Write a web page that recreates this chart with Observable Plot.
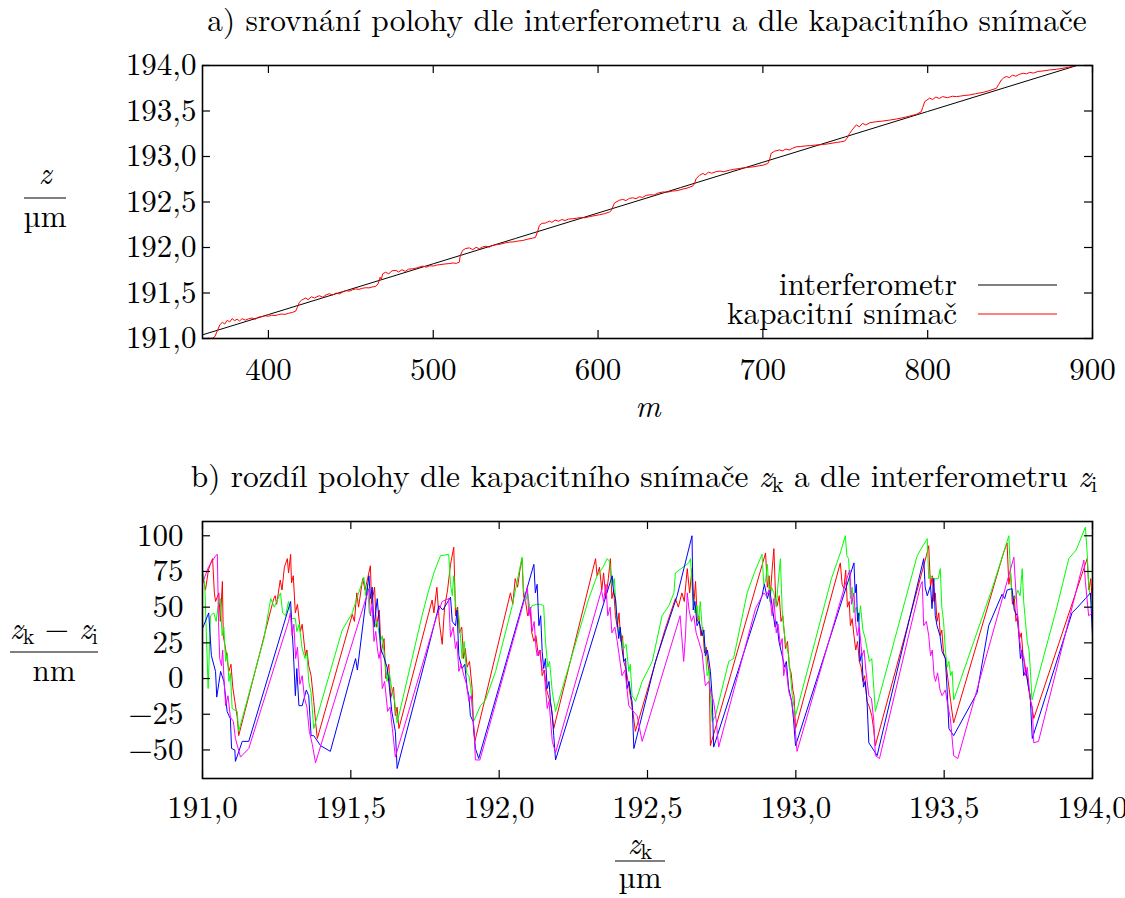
<!DOCTYPE html>
<html><head><meta charset="utf-8">
<script src="https://cdn.jsdelivr.net/npm/d3@7"></script>
<script src="https://cdn.jsdelivr.net/npm/@observablehq/plot@0.6"></script>
<style>
html,body{margin:0;padding:0;background:#fff;overflow:hidden;}
#root{width:1125px;height:898px;}
#root svg{display:block;}
</style></head><body><div id="root"></div>
<script>
// pick an installed serif face (Computer Modern look-alike)
function pickFont(cands) {
  const c = document.createElement("canvas").getContext("2d");
  const s = "abcdefghijklmnopqrstuvwxyzABCDEFGHIJKLMNOPQRSTUVWXYZ0123456789,.";
  for (const f of cands) {
    for (const base of ["monospace", "sans-serif", "serif", "cursive"]) {
      c.font = `40px ${base}`; const w0 = c.measureText(s).width;
      c.font = `40px "${f}", ${base}`; const w1 = c.measureText(s).width;
      if (Math.abs(w0 - w1) > 0.5) return f;
    }
  }
  return null;
}
const picked = pickFont(["CMU Serif", "Latin Modern Roman", "Liberation Serif", "DejaVu Serif", "Tinos", "Times New Roman",
  "Noto Serif", "FreeSerif", "Nimbus Roman", "Nimbus Roman No9 L", "TeX Gyre Termes", "Georgia", "Bitstream Vera Serif",
  "Source Serif Pro", "PT Serif", "Gelasio", "Crimson Text", "Times"]);
const FONT = picked ? `"${picked}", serif` : "serif";

// ---------- panel a ----------
const topXTicks = [400, 500, 600, 700, 800, 900];
const topYTicks = [191.0, 191.5, 192.0, 192.5, 193.0, 193.5, 194.0];
const interfM = [360, 400, 450, 500, 550, 600, 650, 700, 750, 800, 850, 890];
const interfZ = [191.040, 191.263, 191.542, 191.821, 192.100, 192.379, 192.658, 192.937, 193.216, 193.495, 193.774, 193.997];
const kapTop = [
[360,191.000],[363,191.001],[366,191.003],[367.5,191.02],[369,191.085],[370.5,191.15],[372,191.177],[373.5,191.160],[375,191.200],[376.5,191.182],[378,191.218],[379.5,191.196],[381,191.212],[382.5,191.192],[384,191.218],[386,191.202],[388,191.216],[390,191.226],[392,191.212],[394,191.234],[396,191.240],[398,191.250],[400,191.244],[402,191.256],[404,191.252],[406,191.262],[408,191.269],[410,191.265],[412,191.276],[414.6,191.287],[416.5,191.30],
[417.5,191.34],[418.7,191.397],[420,191.42],[422.7,191.446],[424,191.426],[426,191.458],[428,191.446],[430.8,191.470],[433,191.454],[435,191.480],[436.9,191.492],[439,191.478],[441,191.500],[443,191.490],[445,191.510],[447,191.526],[449,191.520],[451,191.535],[453.1,191.545],[455,191.540],[457,191.552],[459.1,191.558],[461,191.556],[463,191.566],[465.2,191.574],[466.5,191.60],[467.8,191.673],[468.5,191.65],
[469.3,191.710],[471,191.728],[473,191.712],[475,191.744],[477.4,191.748],[479,191.730],[481,191.756],[483,191.738],[485,191.762],[487.5,191.766],[490,191.775],[493.5,191.796],[496,191.784],[498,191.800],[500,191.796],[502,191.806],[504,191.812],[507.7,191.820],[510,191.824],[512,191.830],[514,191.826],[515.8,191.838],
[516.4,191.910],[517.8,191.967],[519.5,191.988],[521.9,191.996],[524,191.976],[526,192.002],[528,191.986],[530,192.006],[532,192.014],[534,192.004],[536,192.022],[538.1,192.030],[541,192.038],[544,192.052],[546.2,192.059],[549,192.062],[551,192.070],[554.3,192.077],[557,192.090],[560.3,192.103],[562,192.110],
[563.4,192.180],[564.4,192.243],[566,192.266],[568,192.268],[570.5,192.290],[572,192.276],[574,192.302],[576,192.288],[578,192.308],[580,192.296],[582,192.312],[584.6,192.316],[587,192.322],[590,192.330],[592,192.326],[595,192.340],[598.8,192.353],[601,192.360],[604,192.372],[606.9,192.390],[608,192.405],
[608.9,192.445],[610,192.490],[613,192.520],[615,192.528],[617,192.516],[619,192.540],[621,192.546],[623,192.536],[625,192.558],[627,192.550],[629.2,192.573],[632,192.580],[634,192.576],[636,192.596],[639.3,192.610],[642,192.608],[645,192.620],[648,192.625],[651,192.640],[654,192.652],[657.5,192.676],[658.5,192.700],
[659.5,192.757],[661.5,192.792],[663.6,192.814],[665,192.798],[667,192.828],[669,192.816],[671.7,192.834],[674,192.840],[676,192.832],[679.7,192.849],[682,192.858],[685,192.866],[688,192.875],[691,192.880],[694,192.886],[697,192.896],[700,192.904],[703,192.923],[704,192.960],
[705,193.033],[707,193.058],[710.1,193.072],[712,193.062],[714,193.082],[716,193.072],[718,193.090],[720.2,193.106],[723,193.110],[726.3,193.117],[729,193.120],[732,193.126],[736.4,193.132],[740,193.140],[744.5,193.154],[747,193.160],[749.6,193.169],[751,193.200],
[752.6,193.253],[754.5,193.300],[756.7,193.348],[758.5,193.326],[760.5,193.364],[762.5,193.346],[765,193.372],[768.8,193.382],[772,193.388],[776.9,193.400],[781,193.412],[785,193.426],[789,193.444],[793.1,193.463],[796.1,193.492],[797,193.540],
[798.2,193.603],[801.2,193.642],[803,193.626],[805,193.654],[807,193.638],[809,193.658],[812,193.646],[815,193.662],[817.4,193.658],[820,193.664],[822,193.670],[825.5,193.676],[829,193.690],[833.6,193.705],[837,193.722],[841.7,193.750],[843,193.790],
[844.7,193.841],[846,193.862],[847.7,193.880],[849.5,193.866],[851.5,193.894],[853.5,193.882],[855.5,193.902],[857.9,193.915],[860,193.908],[862,193.926],[864,193.916],[867,193.935],[870,193.940],[874,193.951],[878,193.958],[882.1,193.970],[886,193.982],[889.2,193.996]
];

// ---------- panel b ----------
const botXTicks = [191.0, 191.5, 192.0, 192.5, 193.0, 193.5, 194.0];
const botYTicks = [-50, -25, 0, 25, 50, 75, 100];
const redDiff = [
[191.000,73],[191.010,62],[191.020,76],[191.028,81],[191.034,84],[191.040,60],[191.044,54],[191.055,60],[191.060,40],[191.067,68],[191.070,30],[191.076,23],[191.083,14],[191.089,5],[191.096,10],[191.102,-6],[191.109,-16],[191.117,-27],[191.122,-40],
[191.240,56],[191.245,58],[191.250,52],[191.262,69],[191.268,62],[191.276,78],[191.286,84],[191.290,74],[191.297,87],[191.300,67],[191.306,72],[191.313,46],[191.320,52],[191.330,33],[191.336,38],[191.347,16],[191.352,20],[191.358,9],[191.366,2],[191.375,-16],[191.381,-30],[191.387,-42],
[191.505,45],[191.512,40],[191.520,60],[191.526,50],[191.540,70],[191.548,62],[191.566,79],[191.570,52],[191.580,64],[191.586,36],[191.596,48],[191.602,18],[191.612,28],[191.618,0],[191.628,10],[191.634,-14],[191.644,-6],[191.650,-26],[191.656,-20],[191.662,-35],
[191.774,55],[191.780,46],[191.790,64],[191.798,40],[191.808,24],[191.816,50],[191.826,62],[191.836,80],[191.847,92],[191.853,44],[191.860,50],[191.866,32],[191.874,36],[191.880,14],[191.886,21],[191.892,8],[191.900,12],[191.909,-7],[191.914,-35],[191.918,-44],
[192.038,60],[192.046,52],[192.054,70],[192.062,64],[192.070,76],[192.077,84],[192.082,58],[192.089,54],[192.096,44],[192.104,50],[192.110,32],[192.117,26],[192.124,30],[192.132,16],[192.138,20],[192.145,2],[192.152,6],[192.160,-8],[192.168,-14],[192.176,-20],[192.184,-35],
[192.325,84],[192.330,72],[192.338,78],[192.346,62],[192.352,74],[192.360,56],[192.368,70],[192.375,84],[192.380,56],[192.386,62],[192.392,44],[192.398,36],[192.404,46],[192.410,26],[192.416,30],[192.420,12],[192.428,6],[192.436,-4],[192.442,-12],[192.450,-22],[192.459,-37],
[192.560,35],[192.594,56],[192.604,50],[192.616,60],[192.624,54],[192.634,77],[192.642,60],[192.650,77],[192.656,52],[192.662,68],[192.668,40],[192.673,44],[192.680,30],[192.686,36],[192.692,18],[192.698,22],[192.704,10],[192.708,4],[192.712,-47],
[192.898,88],[192.904,64],[192.910,72],[192.914,58],[192.920,76],[192.926,91],[192.932,56],[192.937,51],[192.944,58],[192.950,40],[192.956,44],[192.962,30],[192.965,21],[192.972,26],[192.978,8],[192.984,4],[192.990,-8],[192.994,-12],[192.999,-35],
[193.150,81],[193.156,66],[193.162,63],[193.168,76],[193.174,50],[193.180,54],[193.184,37],[193.190,42],[193.196,30],[193.202,20],[193.208,26],[193.214,12],[193.220,8],[193.226,-2],[193.232,2],[193.240,-16],[193.248,-20],[193.256,-26],[193.262,-35],[193.268,-47],
[193.440,86],[193.448,93],[193.454,64],[193.460,72],[193.465,54],[193.470,60],[193.476,40],[193.482,46],[193.487,30],[193.492,34],[193.498,18],[193.504,14],[193.510,4],[193.516,-6],[193.522,-16],[193.527,-24],[193.532,-31],
[193.700,88],[193.712,95],[193.718,66],[193.724,74],[193.730,52],[193.736,58],[193.742,40],[193.748,44],[193.754,28],[193.760,32],[193.766,16],[193.772,10],[193.778,2],[193.784,-6],[193.790,-14],[193.796,-20],[193.802,-28],
[193.982,84],[193.988,62],[193.994,70],[194.000,52]
];
const greenDiff = [
[191.000,77],[191.008,64],[191.019,-7],[191.027,44],[191.038,46],[191.046,40],[191.052,50],[191.060,56],[191.066,30],[191.072,36],[191.078,12],[191.084,18],[191.089,-2],[191.094,4],[191.100,-21],[191.117,-23],[191.122,-37],
[191.207,28],[191.230,56],[191.242,50],[191.263,60],[191.270,46],[191.280,44],[191.290,54],[191.300,42],[191.313,42],[191.318,33],[191.326,38],[191.336,21],[191.346,14],[191.352,18],[191.358,-2],[191.366,-10],[191.375,-35],
[191.471,34],[191.505,46],[191.520,56],[191.544,71],[191.550,58],[191.556,66],[191.562,46],[191.571,44],[191.580,36],[191.588,40],[191.600,26],[191.606,30],[191.614,14],[191.622,-2],[191.630,4],[191.640,-10],[191.648,-16],[191.656,-31],
[191.740,44],[191.760,60],[191.780,74],[191.802,86],[191.830,87],[191.836,66],[191.842,58],[191.847,72],[191.854,50],[191.864,44],[191.870,28],[191.875,14],[191.882,26],[191.890,4],[191.898,2],[191.904,-6],[191.914,-30],
[191.937,-19],[191.954,-15],[191.988,5],[192.044,51],[192.077,85],[192.082,62],[192.089,54],[192.096,60],[192.104,48],[192.111,51],[192.126,52],[192.139,52],[192.150,51],[192.156,26],[192.164,8],[192.170,12],[192.179,-9],[192.190,-23],
[192.302,56],[192.330,72],[192.350,78],[192.364,84],[192.372,82],[192.381,65],[192.388,70],[192.394,50],[192.403,30],[192.410,32],[192.420,21],[192.428,24],[192.437,5],[192.442,10],[192.448,-12],[192.460,-16],
[192.482,-2],[192.516,12],[192.549,44],[192.572,51],[192.589,60],[192.594,74],[192.620,78],[192.639,81],[192.645,84],[192.652,58],[192.660,46],[192.667,51],[192.672,40],[192.678,54],[192.684,36],[192.690,30],[192.696,18],[192.701,2],[192.708,6],[192.712,-12],[192.718,-30],
[192.729,-26],[192.774,12],[192.790,14],[192.836,60],[192.860,74],[192.886,87],[192.892,66],[192.898,68],[192.904,80],[192.912,54],[192.918,64],[192.926,60],[192.934,50],[192.940,66],[192.948,84],[192.954,48],[192.960,34],[192.965,26],[192.976,16],[192.988,-12],[192.999,-26],
[193.120,70],[193.150,88],[193.167,100],[193.172,86],[193.178,84],[193.184,56],[193.190,64],[193.195,46],[193.204,50],[193.212,40],[193.218,51],[193.226,34],[193.234,28],[193.240,21],[193.248,12],[193.256,14],[193.263,-7],[193.268,-23],
[193.409,86],[193.420,90],[193.443,98],[193.448,70],[193.454,72],[193.466,70],[193.480,70],[193.487,77],[193.492,50],[193.498,40],[193.504,20],[193.510,8],[193.516,12],[193.522,2],[193.527,5],[193.532,-15],
[193.600,26],[193.660,62],[193.700,88],[193.718,100],[193.724,72],[193.729,58],[193.740,56],[193.748,62],[193.756,58],[193.763,77],[193.768,54],[193.774,40],[193.780,26],[193.786,20],[193.790,8],[193.796,-15],
[193.880,50],[193.920,84],[193.945,90],[193.976,106],[193.982,88],[193.988,63],[194.000,50]
];
const blueDiff = [
[191.000,35],[191.021,46],[191.030,16],[191.044,5],[191.048,-13],[191.061,5],[191.072,-2],[191.083,-23],[191.089,-26],[191.094,-28],[191.098,-49],[191.109,-50],[191.111,-58],[191.134,-44],[191.156,-44],
[191.297,54],[191.300,42],[191.306,20],[191.313,-12],[191.318,7],[191.325,-19],[191.336,-19],[191.350,-8],[191.358,-12],[191.362,-26],[191.366,-40],[191.375,-40],[191.398,-47],[191.431,-51],
[191.516,14],[191.522,6],[191.561,72],[191.566,56],[191.572,64],[191.578,36],[191.589,56],[191.595,40],[191.600,21],[191.610,16],[191.622,8],[191.630,-6],[191.638,-23],[191.650,-37],[191.656,-63],
[191.752,14],[191.797,51],[191.810,48],[191.836,57],[191.842,40],[191.853,37],[191.858,48],[191.864,16],[191.875,7],[191.884,10],[191.892,-7],[191.898,-12],[191.903,-26],[191.912,-30],[191.920,-49],[191.931,-56],
[192.117,80],[192.122,60],[192.128,66],[192.134,37],[192.140,44],[192.145,19],[192.150,7],[192.156,14],[192.162,-7],[192.168,-2],[192.173,-16],[192.179,-26],[192.184,-40],[192.190,-57],
[192.381,72],[192.386,60],[192.392,56],[192.398,40],[192.403,28],[192.408,36],[192.414,21],[192.420,12],[192.426,14],[192.431,-7],[192.438,-2],[192.444,-12],[192.448,-16],[192.454,-49],
[192.527,12],[192.560,33],[192.600,58],[192.650,100],[192.654,48],[192.660,54],[192.667,37],[192.674,40],[192.684,30],[192.690,34],[192.695,16],[192.702,20],[192.712,5],[192.718,-13],[192.723,-48],
[192.886,58],[192.894,66],[192.904,56],[192.912,62],[192.920,51],[192.930,36],[192.936,40],[192.943,26],[192.954,16],[192.962,8],[192.968,12],[192.976,-7],[192.986,-16],[192.992,-28],[192.999,-47],
[193.196,81],[193.200,60],[193.204,66],[193.208,40],[193.212,46],[193.216,12],[193.222,18],[193.228,-6],[193.234,-2],[193.240,-16],[193.246,-45],[193.262,-50],[193.274,-54],
[193.431,84],[193.436,64],[193.443,58],[193.454,65],[193.459,49],[193.465,70],[193.470,44],[193.476,37],[193.486,30],[193.493,19],[193.504,14],[193.510,-8],[193.516,-35],[193.532,-40],
[193.611,-10],[193.650,37],[193.695,59],[193.704,56],[193.712,62],[193.729,63],[193.736,48],[193.746,44],[193.752,30],[193.757,14],[193.762,20],[193.768,2],[193.776,6],[193.785,-7],[193.790,-12],[193.797,-42],
[193.931,46],[193.950,50],[193.976,56],[193.993,60],[194.000,30]
];
const magentaDiff = [
[191.000,67],[191.020,78],[191.044,86],[191.050,87],[191.054,40],[191.058,14],[191.064,9],[191.068,20],[191.072,2],[191.078,-19],[191.086,-12],[191.094,-27],[191.104,-30],[191.111,-42],[191.128,-55],[191.156,-49],
[191.290,40],[191.296,46],[191.302,30],[191.308,38],[191.314,14],[191.320,22],[191.328,-4],[191.336,2],[191.344,-14],[191.352,-20],[191.360,-37],[191.370,-46],[191.381,-59],
[191.561,63],[191.566,44],[191.572,52],[191.578,26],[191.584,33],[191.590,20],[191.595,14],[191.600,20],[191.606,-7],[191.614,-2],[191.624,-23],[191.632,-20],[191.640,-35],[191.650,-55],
[191.774,33],[191.790,44],[191.808,54],[191.830,56],[191.836,29],[191.845,36],[191.853,21],[191.858,26],[191.864,5],[191.872,10],[191.881,2],[191.890,-4],[191.898,-16],[191.906,-12],[191.915,-35],[191.920,-57],[191.935,-57],
[192.089,58],[192.095,64],[192.100,44],[192.106,50],[192.111,33],[192.118,40],[192.124,22],[192.128,16],[192.136,20],[192.145,7],[192.152,4],[192.162,-21],[192.168,-16],[192.179,-44],[192.190,-52],
[192.345,62],[192.352,54],[192.360,66],[192.366,44],[192.374,50],[192.380,32],[192.390,36],[192.398,26],[192.406,14],[192.414,2],[192.424,6],[192.437,-19],[192.448,-22],[192.465,-26],[192.482,-44],
[192.610,44],[192.622,12],[192.628,30],[192.634,60],[192.640,48],[192.648,40],[192.656,44],[192.664,32],[192.673,26],[192.684,18],[192.695,-5],[192.706,-2],[192.714,-10],[192.723,-16],[192.732,-30],[192.740,-48],
[192.864,49],[192.892,60],[192.900,58],[192.910,62],[192.920,44],[192.926,56],[192.934,32],[192.940,38],[192.948,23],[192.954,28],[192.959,2],[192.966,10],[192.976,-9],[192.986,-16],[192.996,-30],[193.004,-51],
[193.175,72],[193.182,76],[193.188,52],[193.196,60],[193.202,38],[193.207,30],[193.214,36],[193.223,16],[193.230,20],[193.236,6],[193.246,-12],[193.255,-14],[193.263,-30],[193.268,-54],[193.282,-56],
[193.420,65],[193.426,68],[193.431,37],[193.440,40],[193.448,30],[193.454,16],[193.460,20],[193.466,2],[193.471,-2],[193.478,4],[193.486,-8],[193.493,-12],[193.504,-8],[193.510,-16],[193.521,-28],[193.532,-54],[193.546,-56],
[193.735,85],[193.740,67],[193.746,48],[193.752,30],[193.757,23],[193.763,14],[193.768,16],[193.774,2],[193.780,8],[193.791,-16],[193.797,-20],[193.802,-45],[193.818,-44],
[193.971,83],[193.976,68],[193.987,44],[194.000,46]
];

// ---------- helpers ----------
const comma1 = d => d3.format(".1f")(d).replace(".", ",");
const W = 1125, TICK = 8, FS = 31;
const root = document.getElementById("root");

function tickMarks(xt, yt, plotW, plotH) {
  const s = {stroke: "black", strokeWidth: 1.2};
  return [
    Plot.tickX(xt, {x: d => d, insetTop: plotH - TICK, ...s}),
    Plot.tickX(xt, {x: d => d, insetBottom: plotH - TICK, ...s}),
    Plot.tickY(yt, {y: d => d, insetRight: plotW - TICK, ...s}),
    Plot.tickY(yt, {y: d => d, insetLeft: plotW - TICK, ...s})
  ];
}
function addText(svg, x, y, str, o = {}) {
  const t = svg.append("text").attr("x", x).attr("y", y)
    .attr("font-family", FONT).attr("font-size", o.size || FS)
    .attr("text-anchor", o.anchor || "middle").attr("fill", "black");
  if (o.italic) t.attr("font-style", "italic");
  if (str != null) t.text(str);
  return t;
}
function fitWidth(t, target, ax) {
  const w = t.node().getComputedTextLength();
  if (w > 0) {
    const s = target / w;
    t.attr("transform", `translate(${ax},0) scale(${s},1) translate(${-ax},0)`);
  }
}
function hline(svg, x1, x2, y, color = "black", w = 1.2) {
  svg.append("line").attr("x1", x1).attr("x2", x2).attr("y1", y).attr("y2", y)
    .attr("stroke", color).attr("stroke-width", w);
}
function zsub(t, sub) {
  t.append("tspan").attr("font-style", "italic").text("z");
  t.append("tspan").attr("font-size", 22).attr("dy", 5).text(sub);
  return t;
}

// ---------- panel a ----------
const aM = {top: 65, right: 33, bottom: 102, left: 202};
const aH = 440;
const aPW = W - aM.left - aM.right, aPH = aH - aM.top - aM.bottom;
const interfData = interfM.map((m, i) => ({m, z: interfZ[i]}));
const kapData = kapTop.map(([m, z]) => ({m, z}));

const plotA = Plot.plot({
  width: W, height: aH,
  marginTop: aM.top, marginRight: aM.right, marginBottom: aM.bottom, marginLeft: aM.left,
  style: {fontFamily: FONT, fontSize: FS + "px", background: "white", color: "black"},
  x: {domain: [360, 900]},
  y: {domain: [191, 194]},
  marks: [
    Plot.line(interfData, {x: "m", y: "z", stroke: "black", strokeWidth: 1, clip: true}),
    Plot.line(kapData, {x: "m", y: "z", stroke: "#ff0000", strokeWidth: 1, clip: true}),
    ...tickMarks(topXTicks, topYTicks, aPW, aPH),
    Plot.axisX({ticks: topXTicks, tickSize: 0, tickPadding: 19, tickFormat: d => String(d), label: null, fontSize: FS, fontFamily: FONT}),
    Plot.axisY({ticks: topYTicks, tickSize: 0, tickPadding: 6, tickFormat: comma1, label: null, fontSize: FS, fontFamily: FONT}),
    Plot.frame({stroke: "black", strokeWidth: 1.6})
  ]
});
root.appendChild(plotA);
const sa = d3.select(plotA);
fitWidth(addText(sa, 647, 31, "a) srovnání polohy dle interferometru a dle kapacitního snímače"), 880, 647);
addText(sa, 648, 417, "m", {italic: true});
addText(sa, 45, 184, "z", {italic: true});
hline(sa, 24, 66, 198);
addText(sa, 45, 227, "µm");
fitWidth(addText(sa, 957, 295, "interferometr", {anchor: "end"}), 178, 957);
fitWidth(addText(sa, 957, 324, "kapacitní snímač", {anchor: "end"}), 230, 957);
hline(sa, 978, 1057, 285, "black", 1);
hline(sa, 978, 1057, 314, "#ff0000", 1);

// ---------- panel b ----------
const bM = {top: 81, right: 33, bottom: 120, left: 202};
const bH = 458;
const bPW = W - bM.left - bM.right, bPH = bH - bM.top - bM.bottom;
const series = [
  {data: redDiff, color: "#ff0000"},
  {data: greenDiff, color: "#00ff00"},
  {data: blueDiff, color: "#0000ff"},
  {data: magentaDiff, color: "#ff00ff"}
];
const plotB = Plot.plot({
  width: W, height: bH,
  marginTop: bM.top, marginRight: bM.right, marginBottom: bM.bottom, marginLeft: bM.left,
  style: {fontFamily: FONT, fontSize: FS + "px", background: "white", color: "black"},
  x: {domain: [191, 194]},
  y: {domain: [-70, 110]},
  marks: [
    ...series.map(s => Plot.line(s.data, {x: d => d[0], y: d => d[1], stroke: s.color, strokeWidth: 1, clip: true})),
    ...tickMarks(botXTicks, botYTicks, bPW, bPH),
    Plot.axisX({ticks: botXTicks, tickSize: 0, tickPadding: 17, tickFormat: comma1, label: null, fontSize: FS, fontFamily: FONT}),
    Plot.axisY({ticks: botYTicks, tickSize: 0, tickPadding: 19, tickFormat: d => d3.format("d")(d), label: null, fontSize: FS, fontFamily: FONT}),
    Plot.frame({stroke: "black", strokeWidth: 1.6})
  ]
});
root.appendChild(plotB);
const sb = d3.select(plotB);
{
  const t = addText(sb, 644, 47, null);
  t.append("tspan").text("b) rozdíl polohy dle kapacitního snímače ");
  zsub(t, "k");
  t.append("tspan").attr("dy", -5).text(" a dle interferometru ");
  zsub(t, "i");
  fitWidth(t, 907, 644);
}
{
  const t = addText(sb, 54, 199, null);
  zsub(t, "k");
  t.append("tspan").attr("dy", -5).text(" − ");
  zsub(t, "i");
  hline(sb, 10, 98, 212);
  addText(sb, 54, 241, "nm");
}
{
  const t = addText(sb, 640, 414, null);
  zsub(t, "k");
  hline(sb, 615, 665, 421);
  addText(sb, 640, 448, "µm");
}
</script></body></html>
